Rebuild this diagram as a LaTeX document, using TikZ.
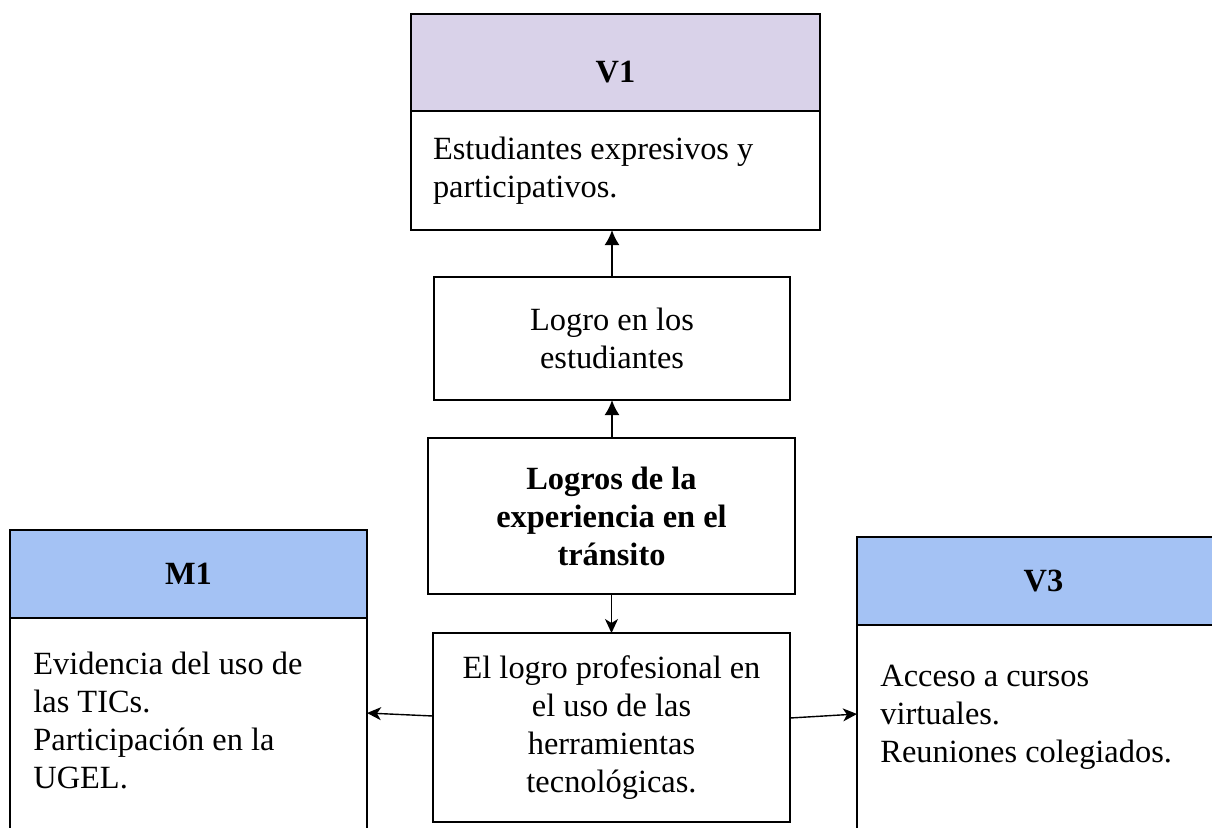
\documentclass[tikz,border=0pt]{standalone}
\usepackage{fontspec}
\setmainfont{Liberation Serif}
\usetikzlibrary{arrows.meta, positioning}
\definecolor{headlila}{HTML}{D9D2E9}
\definecolor{headazul}{HTML}{A4C2F4}

\begin{document}
\begin{tikzpicture}[x=0.5pt, y=-0.5pt,
        caja/.style={rectangle, draw, line width=0.9pt, inner sep=0pt, outer sep=0pt,
                     font=\fontsize{16.2}{19}\selectfont, align=center},
        cab/.style={caja, font=\fontsize{16.2}{19}\selectfont\bfseries},
        txt/.style={inner sep=0pt, align=flush left, font=\fontsize{16.2}{19}\selectfont},
        flecha/.style={-{Latex[length=7.5pt, width=7.5pt]}, line width=0.9pt},
        flechab/.style={-{Stealth[length=7pt, width=6.5pt, inset=2pt]}, line width=0.7pt}
    ]
        \useasboundingbox (0,0) rectangle (1212,827);
        \clip (0,0) rectangle (1212,827);
        % columna central
        \node[cab, fill=headlila, minimum width=204.5pt, minimum height=48.5pt,
              text height=20pt, text depth=0pt] (v1) at (615.5,62.5) {V1};
        \node[caja, anchor=north, minimum width=204.5pt, minimum height=59.5pt,
              text width=182.5pt, inner xsep=11pt, align=flush left] (v1b) at (v1.south)
              {Estudiantes expresivos y\\participativos.};
        \node[caja, minimum width=178pt, minimum height=61.5pt] (logro) at (612,338.5) {Logro en los\\estudiantes};
        \node[cab, minimum width=183.5pt, minimum height=78pt] (exp) at (611.5,516) {Logros de la\\experiencia en el\\tránsito};
        \node[caja, minimum width=178.5pt, minimum height=94.5pt] (prof) at (611.5,727.5)
              {El logro profesional en\\el uso de las\\herramientas\\tecnológicas.};
        % lado izquierdo
        \node[cab, fill=headazul, minimum width=178.5pt, minimum height=44pt] (m1) at (188.5,574) {M1};
        \node[caja, anchor=north, minimum width=178.5pt, minimum height=121pt] (m1b) at (m1.south) {};
        \node[txt, anchor=west] (m1t) at (33,720) {Evidencia del uso de\\las TICs.\\Participación en la\\UGEL.};
        % lado derecho
        \node[cab, fill=headazul, minimum width=186.5pt, minimum height=44pt] (v3) at (1043.5,581) {V3};
        \node[caja, anchor=north, minimum width=186.5pt, minimum height=121pt] (v3b) at (v3.south) {};
        \node[txt, anchor=west] (v3t) at (880,717) {Acceso a cursos\\virtuales.\\Reuniones colegiados.};
        % flechas
        \draw[flecha] (logro.north) -- (logro.north |- v1b.south);
        \draw[flecha] (logro.south |- exp.north) -- (logro.south);
        \draw[flechab] (exp.south) -- (prof.north);
        \draw[flechab] ([yshift=5.75pt]prof.west) -- ([yshift=-47.5pt]m1.south east);
        \draw[flechab] ([yshift=4.75pt]prof.east) -- ([yshift=-44.5pt]v3.south west);
    \end{tikzpicture}
\end{document}
